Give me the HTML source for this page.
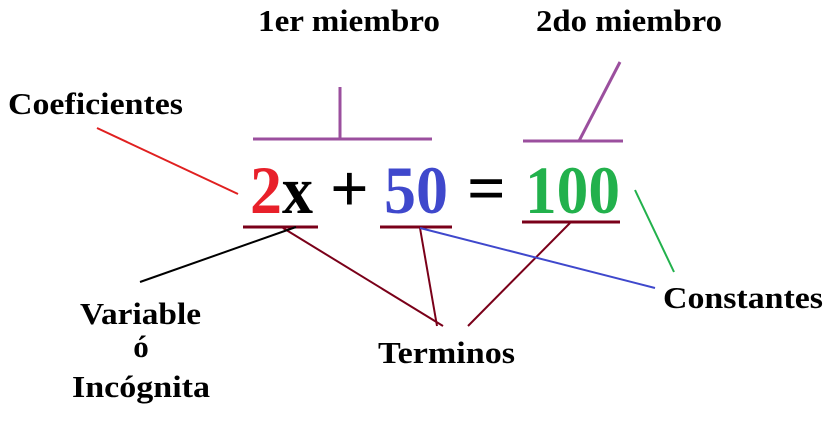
<!DOCTYPE html>
<html><head><meta charset="utf-8"><style>
body{margin:0;width:834px;height:430px;background:#fff;overflow:hidden}
svg{display:block}
text{font-family:"Liberation Serif",serif;font-weight:bold}
</style></head><body>
<svg width="834" height="430">
<g font-size="31" fill="#000">
<text x="258" y="31" textLength="182" lengthAdjust="spacingAndGlyphs">1er miembro</text>
<text x="536" y="31" textLength="186" lengthAdjust="spacingAndGlyphs">2do miembro</text>
<text x="8" y="114" textLength="175" lengthAdjust="spacingAndGlyphs">Coeficientes</text>
<text x="80" y="324" textLength="121" lengthAdjust="spacingAndGlyphs">Variable</text>
<text x="141" y="357" text-anchor="middle">ó</text>
<text x="72" y="397" textLength="138" lengthAdjust="spacingAndGlyphs">Incógnita</text>
<text x="663" y="308" textLength="160" lengthAdjust="spacingAndGlyphs">Constantes</text>
<text x="378" y="363" textLength="137" lengthAdjust="spacingAndGlyphs">Terminos</text>
</g>
<g stroke="#9b4f9e" stroke-width="3">
<line x1="340" y1="87" x2="340" y2="139"/><line x1="253" y1="139" x2="432" y2="139"/>
<line x1="620" y1="62" x2="579" y2="141"/><line x1="523" y1="141" x2="623" y2="141"/>
</g>
<g font-size="68">
<text x="250" y="213" textLength="32" lengthAdjust="spacingAndGlyphs" fill="#e8202a" font-weight="normal">2</text>
<text x="282" y="213" textLength="31" lengthAdjust="spacingAndGlyphs" fill="#000">x</text>
<text x="330" y="211" fill="#000">+</text>
<text x="384" y="213" textLength="64" lengthAdjust="spacingAndGlyphs" fill="#3f48cc" font-weight="normal">50</text>
<text x="467" y="211" fill="#000">=</text>
<text x="525" y="213" textLength="95" lengthAdjust="spacingAndGlyphs" fill="#22b14c" font-weight="normal">100</text>
</g>
<g stroke="#7a0019" stroke-width="3">
<line x1="243" y1="227" x2="318" y2="227"/><line x1="380" y1="227" x2="452" y2="227"/><line x1="522" y1="222" x2="620" y2="222"/>
<line x1="283" y1="228" x2="443" y2="326" stroke-width="2"/>
<line x1="420" y1="228" x2="437" y2="326" stroke-width="2"/>
<line x1="570" y1="223" x2="468" y2="326" stroke-width="2"/>
</g>
<line x1="97" y1="128" x2="238" y2="194" stroke="#e02020" stroke-width="2"/>
<line x1="140" y1="282" x2="296" y2="227" stroke="#000" stroke-width="2"/>
<line x1="420" y1="228" x2="655" y2="288" stroke="#3f48cc" stroke-width="2"/>
<line x1="635" y1="190" x2="674" y2="272" stroke="#22b14c" stroke-width="2"/>
</svg>
</body></html>
